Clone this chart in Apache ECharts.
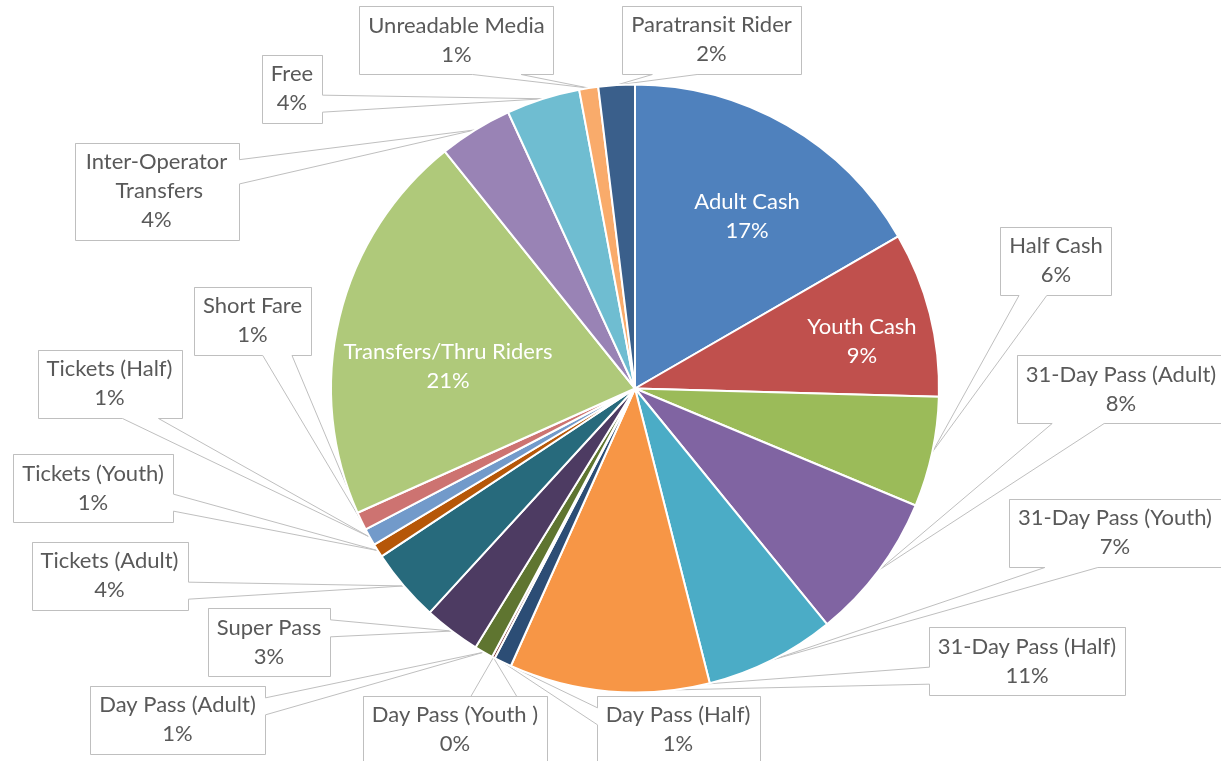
<!DOCTYPE html>
<html>
<head>
<meta charset="utf-8">
<script src="https://cdn.jsdelivr.net/npm/echarts@6/dist/echarts.min.js"></script>
<style>
html,body{margin:0;padding:0;background:#ffffff;}
#chart{width:1221px;height:761px;}
</style>
</head>
<body>
<div id="chart"></div>
<script>
// ---- data ----
const categories = [
  'Adult Cash', 'Youth Cash', 'Half Cash', '31-Day Pass (Adult)', '31-Day Pass (Youth)',
  '31-Day Pass (Half)', 'Day Pass (Half)', 'Day Pass (Youth )', 'Day Pass (Adult)', 'Super Pass',
  'Tickets (Adult)', 'Tickets (Youth)', 'Tickets (Half)', 'Short Fare', 'Transfers/Thru Riders',
  'Inter-Operator Transfers', 'Free', 'Unreadable Media', 'Paratransit Rider'
];
const shares = [
  16.66, 8.77, 5.85, 7.83, 6.92,
  10.65, 0.94, 0.15, 1.00, 3.02,
  3.88, 0.72, 0.92, 0.97, 20.93,
  3.91, 3.91, 1.01, 1.93
];
const colors = [
  '#4F81BD', '#C0504D', '#9BBB59', '#8064A2', '#4BACC6',
  '#F79646', '#2C4D75', '#772C2A', '#5F7530', '#4D3B62',
  '#276A7C', '#B65708', '#729ACA', '#CD7371', '#AFC97A',
  '#9983B5', '#6FBDD1', '#F9AB6B', '#3A5F8B'
];
const insideLabels = ['Adult Cash', 'Youth Cash', 'Transfers/Thru Riders'];

// ---- label layout (box centres, pixels) ----
const labelCenters = [
  [747, 216.5], [862, 341.5], [1056, 260.5], [1121, 389], [1115, 532.5],
  [1027, 661], [678, 729.5], [455, 729.5], [177.5, 719.5], [269, 642],
  [109.5, 575.5], [93, 488], [109.5, 383.5], [252.5, 320.5], [448, 366],
  [156.5, 191], [292, 88.5], [456.5, 40], [711.5, 39.5]
];

const total = shares.reduce((a, b) => a + b, 0);

// Excel-like wedge rectangle callout outline
function callout(c, w, h, tip) {
  const l = Math.round(c[0] - w / 2) + 0.5;
  const t = Math.round(c[1] - h / 2) + 0.5;
  const W = Math.round(w), H = Math.round(h);
  const r = l + W, b = t + H;
  const hc = (l + r) / 2, vc = (t + b) / 2;
  const dx = tip[0] - hc, dy = tip[1] - vc;
  const dq = dx * H / W;
  const x1 = l + W * (dx > 0 ? 7 : 2) / 12, x2 = l + W * (dx > 0 ? 10 : 5) / 12;
  const y1 = t + H * (dy > 0 ? 7 : 2) / 12, y2 = t + H * (dy > 0 ? 10 : 5) / 12;
  const top = [[l, t]], right = [[r, t]], bottom = [[r, b]], left = [[l, b]];
  if (Math.abs(dy) > Math.abs(dq)) {
    if (dy < 0) top.push([x1, t], tip, [x2, t]);
    else bottom.push([x2, b], tip, [x1, b]);
  } else {
    if (dx > 0) right.push([r, y1], tip, [r, y2]);
    else left.push([l, y2], tip, [l, y1]);
  }
  return top.concat(right, bottom, left, [[l, t], [r, t]]);
}

const data = categories.map((name, i) => {
  const item = { name: name, value: shares[i], itemStyle: { color: colors[i] } };
  if (insideLabels.indexOf(name) >= 0) {
    item.label = { position: 'inside', color: '#ffffff', backgroundColor: 'rgba(0,0,0,0)', padding: 0 };
    item.labelLine = { show: false };
  }
  if (name === 'Inter-Operator Transfers') {
    item.label = { width: 146, overflow: 'break' };
  }
  return item;
});

const chart = echarts.init(document.getElementById('chart'), null, { renderer: 'canvas' });
chart.setOption({
  backgroundColor: '#ffffff',
  animation: false,
  series: [{
    type: 'pie',
    center: [635, 388.5],
    radius: 304,
    startAngle: 90,
    clockwise: true,
    avoidLabelOverlap: false,
    silent: true,
    itemStyle: { borderColor: '#ffffff', borderWidth: 2 },
    label: {
      show: true,
      position: 'outside',
      formatter: p => p.name + '\n' + Math.round(p.value / total * 100) + '%',
      color: '#595959',
      fontFamily: 'Lato',
      fontSize: 22,
      lineHeight: 29,
      align: 'center',
      padding: [6, 9, 4, 9],
      backgroundColor: 'rgba(255,255,255,0)'
    },
    labelLine: {
      show: true,
      length: 10,
      length2: 10,
      smooth: false,
      lineStyle: { color: '#BFBFBF', width: 1 }
    },
    labelLayout: function (p) {
      const c = labelCenters[p.dataIndex];
      const res = { x: c[0], y: c[1], align: 'center', verticalAlign: 'middle' };
      const pts = p.labelLinePoints;
      if (pts && pts.length && insideLabels.indexOf(categories[p.dataIndex]) < 0) {
        res.labelLinePoints = callout(c, p.labelRect.width, p.labelRect.height, pts[0]);
      }
      return res;
    },
    data: data
  }]
});
</script>
</body>
</html>
